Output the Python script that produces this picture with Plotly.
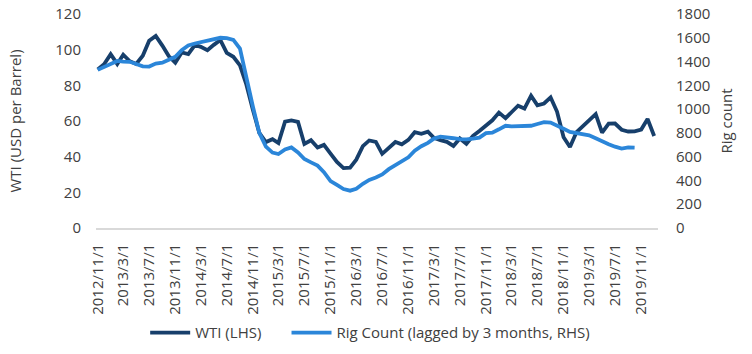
import pandas as pd
import plotly.graph_objects as go

months = pd.date_range("2012-11-01", periods=87, freq="MS")

wti = [88.9, 91.8, 97.5, 92.0, 97.2, 93.5, 92.0, 96.6, 105.0, 107.7, 102.3, 96.4,
       92.7, 98.4, 97.5, 102.6, 101.6, 99.7, 102.7, 105.4, 98.2, 96.0, 91.2, 80.5,
       66.2, 53.3, 48.2, 49.8, 47.6, 59.6, 60.3, 59.5, 47.1, 49.2, 45.1, 46.6,
       41.7, 37.0, 33.6, 33.8, 38.3, 45.9, 49.1, 48.3, 41.6, 44.7, 48.2, 46.9,
       49.4, 53.7, 52.8, 54.0, 50.6, 49.3, 48.3, 46.0, 50.2, 47.2, 51.7, 54.4,
       57.4, 60.4, 64.7, 61.6, 64.9, 68.6, 67.0, 74.2, 68.8, 69.8, 73.2, 65.3,
       50.9, 45.4, 53.8, 57.2, 60.1, 63.9, 53.5, 58.5, 58.6, 55.1, 54.1, 54.2,
       55.2, 61.1, 51.6]

rigs = [1330, 1357, 1385, 1405, 1400, 1398, 1380, 1360, 1358, 1383, 1390, 1418,
        1440, 1495, 1535, 1552, 1565, 1575, 1588, 1600, 1597, 1582, 1510, 1250,
        1020, 800, 684, 634, 622, 660, 678, 636, 580, 552, 525, 470,
        395, 362, 328, 314, 330, 372, 405, 425, 450, 495, 530, 558,
        595, 650, 688, 716, 752, 768, 764, 755, 747, 745, 752, 760,
        798, 802, 830, 860, 855, 855, 855, 860, 875, 890, 887, 865,
        835, 808, 796, 790, 780, 755, 727, 705, 684, 668, 678, 676]

tick_dates = months[::4]
tick_labels = [f"{d.year}/{d.month}/1" for d in tick_dates]

font_family = "Open Sans"
text_color = "#404040"
fs = 15

fig = go.Figure()
fig.add_trace(go.Scatter(x=months, y=wti, name="WTI (LHS)", mode="lines",
                         line=dict(color="#173F6B", width=3.8), legend="legend"))
fig.add_trace(go.Scatter(x=months[:len(rigs)], y=rigs, name="Rig Count (lagged by 3 months, RHS)",
                         mode="lines", yaxis="y2", legend="legend2",
                         line=dict(color="#2B86D9", width=3.8)))

leg_common = dict(orientation="h", y=-0.49, yanchor="middle", xanchor="left",
                  font=dict(size=fs, color=text_color), itemwidth=40, bgcolor="rgba(0,0,0,0)")

fig.update_layout(
    width=752, height=354,
    margin=dict(l=96, r=94, t=14, b=126, autoexpand=False),
    paper_bgcolor="white", plot_bgcolor="white",
    font=dict(family=font_family, size=fs, color=text_color),
    showlegend=True,
    legend=dict(x=0.0875, **leg_common),
    legend2=dict(x=0.339, **leg_common),
    xaxis=dict(type="date", range=["2012-10-24", "2020-01-19"],
               tickmode="array", tickvals=list(tick_dates), ticktext=tick_labels,
               tickangle=-90, showgrid=False, zeroline=False,
               showline=True, linecolor="#d9d9d9", linewidth=1.5, ticks="",
               ticklabelstandoff=8,
               tickfont=dict(size=fs, color=text_color)),
    yaxis=dict(range=[0, 120], dtick=20, showgrid=False, zeroline=False, showline=False,
               ticks="", tickfont=dict(size=fs, color=text_color), ticklabelstandoff=14,
               title=dict(text="WTI (USD per Barrel)", font=dict(size=fs, color=text_color), standoff=30)),
    yaxis2=dict(range=[0, 1800], dtick=200, overlaying="y", side="right", showgrid=False,
                zeroline=False, showline=False, ticks="", ticklabelstandoff=17,
                tickfont=dict(size=fs, color=text_color),
                title=dict(text="Rig count", font=dict(size=fs, color=text_color), standoff=12)),
)

fig.write_html("out.html")
